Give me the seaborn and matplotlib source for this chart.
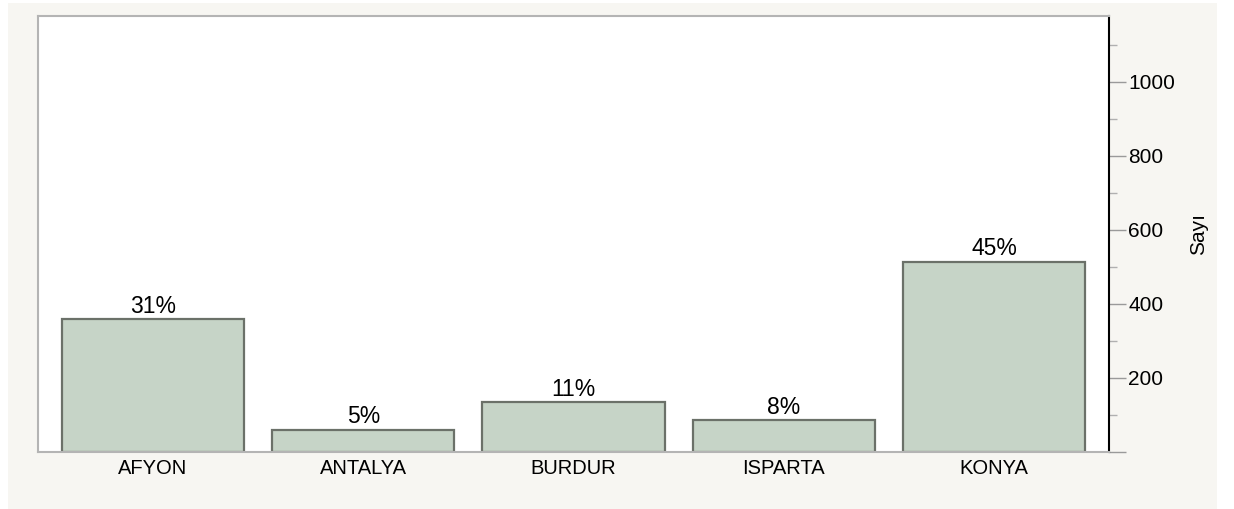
import matplotlib
matplotlib.use('Agg')
import matplotlib.pyplot as plt
import seaborn as sns
import pandas as pd
from matplotlib.patches import Rectangle
from matplotlib.ticker import MultipleLocator

# Data
cities = ['AFYON', 'ANTALYA', 'BURDUR', 'ISPARTA', 'KONYA']
counts = [359, 60, 134, 86, 514]
pct_labels = ['31%', '5%', '11%', '8%', '45%']

df = pd.DataFrame({'il': cities, 'sayi': counts})

sns.set_style('white')
plt.rcParams['font.family'] = ['Liberation Sans', 'DejaVu Sans']
plt.rcParams['text.color'] = 'black'
plt.rcParams['xtick.labelcolor'] = 'black'
plt.rcParams['ytick.labelcolor'] = 'black'
plt.rcParams['axes.labelcolor'] = 'black'

fig = plt.figure(figsize=(12.34, 5.09), dpi=100, facecolor='white')
# light panel behind the plot
fig.patches.append(Rectangle((8 / 1234, 0), 1209 / 1234, 506 / 509,
                             transform=fig.transFigure, facecolor='#f7f6f2',
                             edgecolor='none', zorder=-1))

ax = fig.add_axes([38 / 1234, 57 / 509, 1071 / 1234, 436 / 509])
ax.set_facecolor('white')

sns.barplot(data=df, x='il', y='sayi', color='#c6d4c7', edgecolor='#6b7169',
            linewidth=1.6, width=0.866, saturation=1, ax=ax)
ax.bar_label(ax.containers[0], labels=pct_labels, padding=1, fontsize=16.5,
             color='black')

ax.set_xlim(-0.547, 4.547)
ax.set_ylim(0, 1178)

ax.yaxis.tick_right()
ax.yaxis.set_label_position('right')
ax.set_yticks([0, 200, 400, 600, 800, 1000])
ax.set_yticklabels(['', '200', '400', '600', '800', '1000'])
ax.yaxis.set_minor_locator(MultipleLocator(100))
ax.tick_params(axis='y', which='major', length=12, width=1, color='#9a9a9a',
               labelsize=15, pad=2, direction='out', right=True, left=False)
ax.tick_params(axis='y', which='minor', length=6, width=1, color='#b0b0b0',
               direction='out', right=True, left=False)
ax.tick_params(axis='x', length=0, labelsize=14.5, pad=5)

ax.set_xlabel('')
ax.set_ylabel('Sayı', fontsize=15, labelpad=10)

for side in ['left', 'top', 'bottom']:
    ax.spines[side].set_color('#b4b4b4')
    ax.spines[side].set_linewidth(1.5)
ax.spines['right'].set_color('black')
ax.spines['right'].set_linewidth(1.5)

fig.savefig('out.png', dpi=100, facecolor=fig.get_facecolor())
